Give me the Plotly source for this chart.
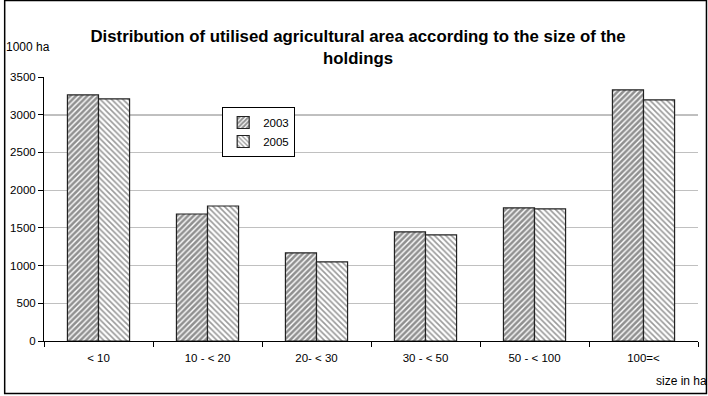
import plotly.graph_objects as go

categories = ["< 10", "10 - < 20", "20- < 30", "30 - < 50", "50 - < 100", "100=<"]
values_2003 = [3262, 1684, 1167, 1446, 1764, 3329]
values_2005 = [3209, 1790, 1048, 1406, 1751, 3196]
y_ticks = [0, 500, 1000, 1500, 2000, 2500, 3000, 3500]

W, H = 708, 396
L, R, T, B = 41, 10, 77, 55
pw, ph = W - L - R, H - T - B

def px(x):
    return (x - L) / pw

def py(y):
    return (H - B - y) / ph

fig = go.Figure()
fig.add_trace(go.Bar(
    x=categories, y=values_2003, name="2003",
    marker=dict(color="white", line=dict(color="#222", width=1.2),
                pattern=dict(shape="/", fgcolor="#222", bgcolor="white", size=4, solidity=0.65)),
))
fig.add_trace(go.Bar(
    x=categories, y=values_2005, name="2005",
    marker=dict(color="white", line=dict(color="#222", width=1.2),
                pattern=dict(shape="\\", fgcolor="#333", bgcolor="white", size=4, solidity=0.4)),
))

fig.update_layout(
    width=W, height=H,
    margin=dict(l=L, r=R, t=T, b=B),
    paper_bgcolor="white", plot_bgcolor="white",
    font=dict(family="Liberation Sans, Arial, sans-serif", size=11.5, color="black"),
    barmode="group", bargap=0.43, bargroupgap=0,
    showlegend=True,
    legend=dict(x=px(220), y=py(107), xanchor="left", yanchor="top",
                bordercolor="black", borderwidth=1, bgcolor="white",
                font=dict(size=11.5), itemwidth=30, tracegroupgap=4),
    title=dict(text="<b>Distribution of utilised agricultural area according to the size of the<br>holdings</b>",
               x=px(356.5), xref="paper", xanchor="center", y=1 - 42 / H, yanchor="middle",
               font=dict(size=16.8)),
    xaxis=dict(type="category", showline=True, linecolor="black", linewidth=1,
               ticks="outside", tickson="boundaries", ticklen=5, tickcolor="black",
               showgrid=False, tickfont=dict(size=11.5), ticklabelstandoff=6),
    yaxis=dict(range=[0, 3500], tickvals=y_ticks, showline=True, linecolor="black", linewidth=1,
               ticks="outside", ticklen=5, tickcolor="black",
               showgrid=True, gridcolor="#c0c0c0", gridwidth=1, zeroline=False,
               tickfont=dict(size=11.5)),
    shapes=[
        dict(type="line", xref="paper", yref="y", x0=0, x1=1, y0=3000, y1=3000,
             line=dict(color="#808080", width=1.5), layer="below"),
        dict(type="rect", xref="paper", yref="paper", x0=px(1.5), x1=px(706.5), y0=py(393.5), y1=py(0.5),
             line=dict(color="black", width=1.5)),
    ],
    annotations=[
        dict(text="1000 ha", xref="paper", yref="paper", x=px(0.5), y=py(47), xanchor="left",
             yanchor="middle", showarrow=False, font=dict(size=12)),
        dict(text="size in ha", xref="paper", yref="paper", x=px(709), y=py(381), xanchor="right",
             yanchor="middle", showarrow=False, font=dict(size=12)),
    ],
)

fig.write_html("out.html")
